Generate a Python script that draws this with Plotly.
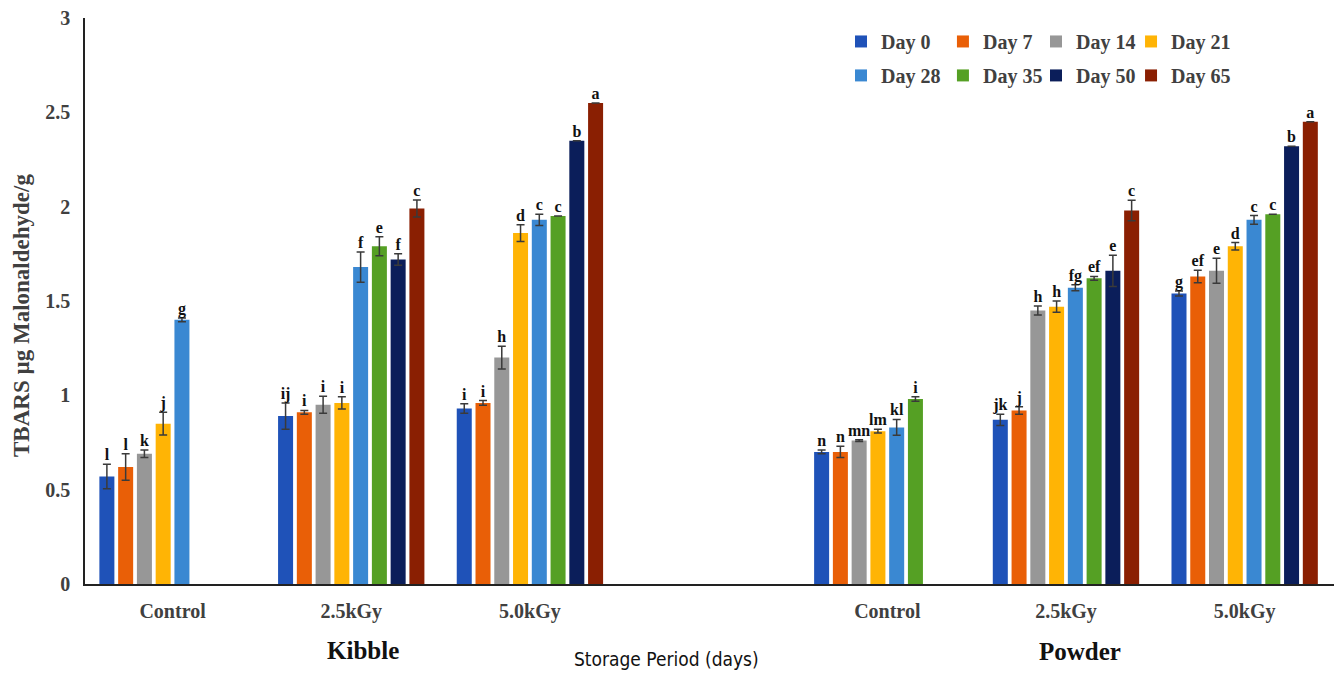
import plotly.graph_objects as go

# ---------------- data ----------------
days = ["Day 0", "Day 7", "Day 14", "Day 21", "Day 28", "Day 35", "Day 50", "Day 65"]
groups = ["Kibble Control", "Kibble 2.5kGy", "Kibble 5.0kGy",
          "Powder Control", "Powder 2.5kGy", "Powder 5.0kGy"]
tick_labels = ["Control", "2.5kGy", "5.0kGy", "Control", "2.5kGy", "5.0kGy"]
slot_index = [0, 1, 2, 4, 5, 6]   # empty slot 3 separates Kibble and Powder

# values per day across the 6 groups
day0 = [0.57, 0.89, 0.93, 0.70, 0.87, 1.54]
day7 = [0.62, 0.91, 0.96, 0.70, 0.92, 1.63]
day14 = [0.69, 0.95, 1.20, 0.76, 1.45, 1.66]
day21 = [0.85, 0.96, 1.86, 0.81, 1.47, 1.79]
day28 = [1.40, 1.68, 1.93, 0.83, 1.57, 1.93]
day35 = [None, 1.79, 1.95, 0.98, 1.62, 1.96]
day50 = [None, 1.72, 2.35, None, 1.66, 2.32]
day65 = [None, 1.99, 2.55, None, 1.98, 2.45]

err0 = [0.065, 0.07, 0.025, 0.01, 0.03, 0.013]
err7 = [0.07, 0.01, 0.012, 0.03, 0.02, 0.033]
err14 = [0.02, 0.045, 0.06, 0.005, 0.024, 0.066]
err21 = [0.06, 0.033, 0.044, 0.01, 0.03, 0.02]
err28 = [0.01, 0.08, 0.03, 0.042, 0.016, 0.023]
err35 = [None, 0.05, None, 0.012, 0.01, None]
err50 = [None, 0.03, None, None, 0.083, None]
err65 = [None, 0.045, None, None, 0.054, None]

let0 = ["l", "ij", "i", "n", "jk", "g"]
let7 = ["l", "i", "i", "n", "j", "ef"]
let14 = ["k", "i", "h", "mn", "h", "e"]
let21 = ["j", "i", "d", "lm", "h", "d"]
let28 = ["g", "f", "c", "kl", "fg", "c"]
let35 = ["", "e", "c", "i", "ef", "c"]
let50 = ["", "f", "b", "", "e", "b"]
let65 = ["", "c", "a", "", "c", "a"]

colors = ["#1F52B8", "#E95F07", "#979797", "#FFB405",
          "#3A88D2", "#55A024", "#0B1E5A", "#8A1F02"]

values = [day0, day7, day14, day21, day28, day35, day50, day65]
errors = [err0, err7, err14, err21, err28, err35, err50, err65]
letters = [let0, let7, let14, let21, let28, let35, let50, let65]

# legend grid placement (column, row) for each day
legend_cols = [0.6053, 0.6869, 0.7614, 0.8375]
legend_rows = [0.993, 0.933]

# --------------- figure ---------------
pitch = 0.105
bar_w = 0.084
fig = go.Figure()

legend_font = dict(family="Liberation Serif", size=20, color="#404040", weight="bold")
legend_layout = {}

for i, name in enumerate(days):
    xs = [s + (i - 3.5) * pitch for s in slot_index]
    key = "legend" if i == 0 else f"legend{i + 1}"
    fig.add_trace(go.Bar(
        x=xs, y=values[i], width=bar_w, name=name,
        marker=dict(color=colors[i], line=dict(width=0)),
        error_y=dict(type="data", array=[e if e is not None else float("nan") for e in errors[i]],
                     visible=True, color="#3a3a3a", thickness=1.5, width=4),
        legend=key,
        hoverinfo="skip",
    ))
    legend_layout[key] = dict(
        orientation="h", x=legend_cols[i % 4], y=legend_rows[i // 4],
        xanchor="left", yanchor="top", font=legend_font,
        bgcolor="rgba(0,0,0,0)", itemclick=False, itemdoubleclick=False,
    )

for i in range(len(days)):
    xs = [s + (i - 3.5) * pitch for s in slot_index]
    ys = []
    for v, e in zip(values[i], errors[i]):
        if v is None:
            ys.append(None)
        else:
            ys.append(v + (e if e is not None else 0))
    fig.add_trace(go.Scatter(
        x=xs, y=ys, mode="text", text=letters[i], textposition="top center",
        textfont=dict(family="Liberation Serif", size=16, color="#111111", weight="bold"),
        showlegend=False, hoverinfo="skip", cliponaxis=False,
    ))

fig.update_layout(
    width=1341, height=673,
    margin=dict(l=85, r=7, t=16, b=89),
    plot_bgcolor="white", paper_bgcolor="white",
    barmode="overlay",
    showlegend=True,
    xaxis=dict(range=[-0.49, 6.5], tickmode="array", tickvals=slot_index, ticktext=tick_labels,
               showline=True, linecolor="#222222", linewidth=2, showgrid=False, zeroline=False,
               ticks="", ticklabelstandoff=8,
               tickfont=dict(family="Liberation Serif", size=20, color="#404040", weight="bold")),
    yaxis=dict(range=[0, 3], tickmode="array", tickvals=[0, 0.5, 1, 1.5, 2, 2.5, 3],
               ticktext=["0", "0.5", "1", "1.5", "2", "2.5", "3"],
               showline=True, linecolor="#222222", linewidth=1.5, showgrid=False, zeroline=False,
               ticks="", ticklabelstandoff=9,
               tickfont=dict(family="Liberation Serif", size=20, color="#404040", weight="bold")),
    annotations=[
        dict(text="TBARS µg Malonaldehyde/g", x=-0.0504, y=0.4736, xref="paper", yref="paper",
             showarrow=False, textangle=-90, xanchor="center", yanchor="middle",
             font=dict(family="Liberation Serif", size=23, color="#404040", weight="bold")),
        dict(text="Kibble", x=1.066, y=-0.118, xref="x", yref="paper", showarrow=False,
             yanchor="middle", xanchor="center",
             font=dict(family="Liberation Serif", size=25, color="#111111", weight="bold")),
        dict(text="Powder", x=5.08, y=-0.12, xref="x", yref="paper", showarrow=False,
             yanchor="middle", xanchor="center",
             font=dict(family="Liberation Serif", size=25, color="#111111", weight="bold")),
        dict(text="Storage Period (days)", x=2.767, y=-0.132, xref="x", yref="paper", showarrow=False,
             yanchor="middle", xanchor="center",
             font=dict(family="DejaVu Sans Condensed, Liberation Sans Narrow, sans-serif",
                       size=19, color="#111111")),
    ],
    **legend_layout,
)

fig.write_html("out.html", config={"displayModeBar": False},
               post_script="document.body.style.margin='0';")
